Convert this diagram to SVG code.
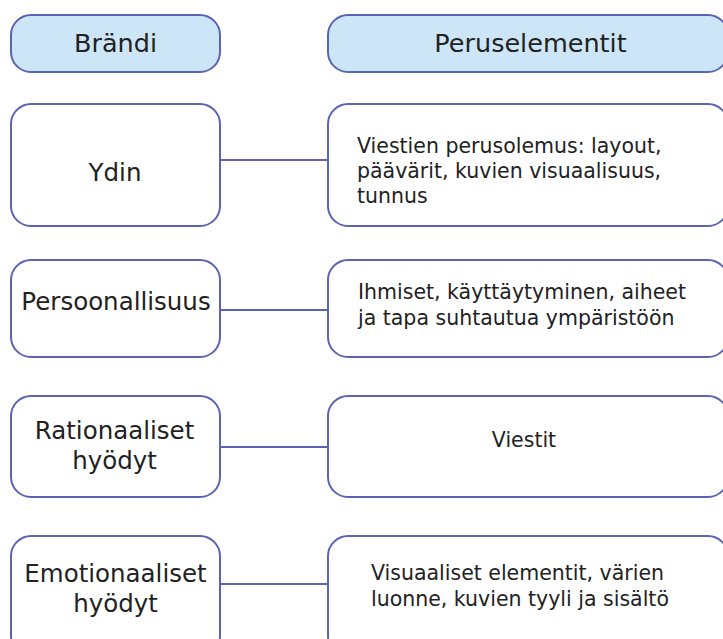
<svg xmlns="http://www.w3.org/2000/svg" width="723" height="639" viewBox="0 0 723 639">
<style>
.b{fill:#fff;stroke:#5b63b5;stroke-width:2}
.h{fill:#cde6f7;stroke:#5b63b5;stroke-width:2}
.c{stroke:#5b63b5;stroke-width:2;fill:none}
text{font-family:"DejaVu Sans","Liberation Sans",sans-serif;fill:#222;font-size:24.5px}
.m{text-anchor:middle}
.s{font-size:20.5px}
.t{font-size:25.5px}
</style>
<rect width="723" height="639" fill="#fff"/>
<g id="connectors">
<line class="c" x1="220" y1="160" x2="328" y2="160"/>
<line class="c" x1="220" y1="310" x2="328" y2="310"/>
<line class="c" x1="220" y1="447" x2="328" y2="447"/>
<line class="c" x1="220" y1="584" x2="328" y2="584"/>
</g>
<g id="h1"><rect class="h" x="11" y="15" width="209" height="57" rx="20"/><text class="m t" x="115.5" y="52">Brändi</text></g>
<g id="h2"><rect class="h" x="328" y="15" width="400" height="57" rx="20"/><text class="m t" x="530.5" y="52">Peruselementit</text></g>
<g id="l1"><rect class="b" x="11" y="104" width="209" height="122" rx="20"/><text class="m" x="115" y="181">Ydin</text></g>
<g id="r1"><rect class="b" x="328" y="104" width="400" height="122" rx="20"/><text class="s" x="357" y="153">Viestien perusolemus: layout,</text><text class="s" x="357" y="178">päävärit, kuvien visuaalisuus,</text><text class="s" x="357" y="203">tunnus</text></g>
<g id="l2"><rect class="b" x="11" y="260" width="209" height="97" rx="20"/><text class="m" x="116" y="310">Persoonallisuus</text></g>
<g id="r2"><rect class="b" x="328" y="260" width="400" height="97" rx="20"/><text class="s" x="358" y="299">Ihmiset, käyttäytyminen, aiheet</text><text class="s" x="358" y="325">ja tapa suhtautua ympäristöön</text></g>
<g id="l3"><rect class="b" x="11" y="396" width="209" height="101" rx="20"/><text class="m" x="114.5" y="439">Rationaaliset</text><text class="m" x="114.5" y="469">hyödyt</text></g>
<g id="r3"><rect class="b" x="328" y="396" width="400" height="101" rx="20"/><text class="s m" x="524" y="447">Viestit</text></g>
<g id="l4"><rect class="b" x="11" y="536" width="209" height="120" rx="20"/><text class="m" x="115.5" y="582">Emotionaaliset</text><text class="m" x="115.5" y="612">hyödyt</text></g>
<g id="r4"><rect class="b" x="328" y="536" width="400" height="120" rx="20"/><text class="s" x="371" y="580">Visuaaliset elementit, värien</text><text class="s" x="371" y="606">luonne, kuvien tyyli ja sisältö</text></g>
</svg>
